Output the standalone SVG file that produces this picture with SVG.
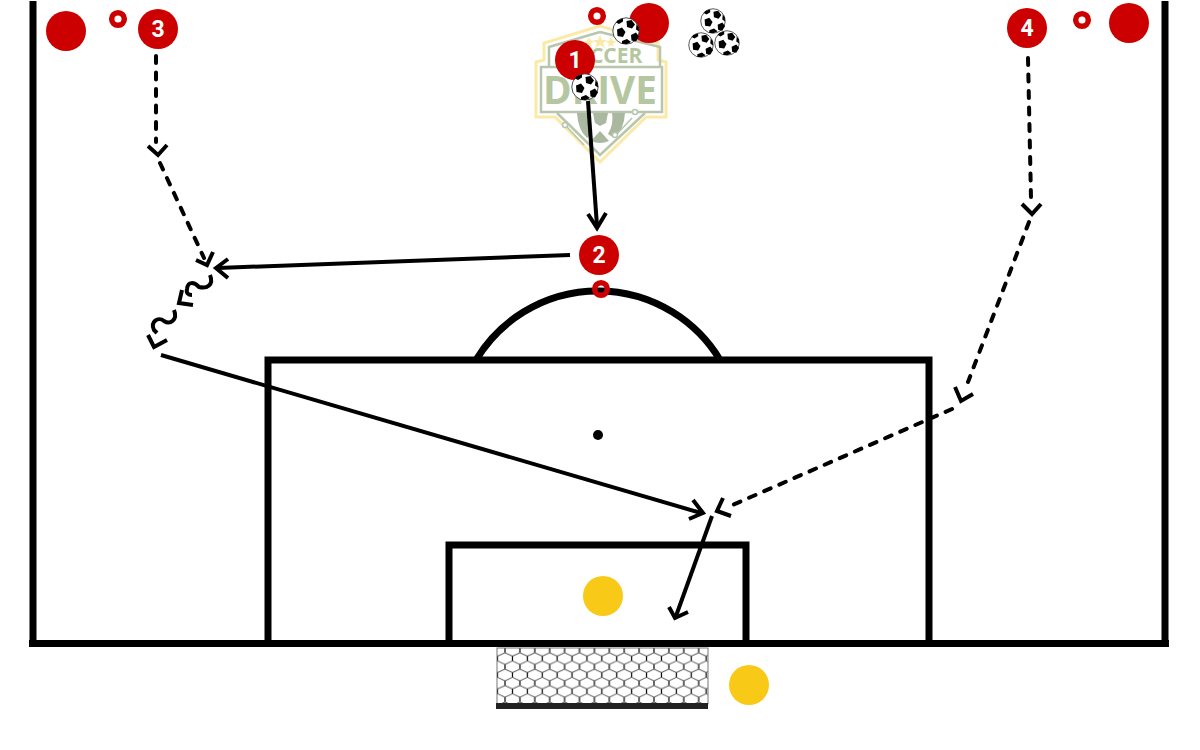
<svg xmlns="http://www.w3.org/2000/svg" width="1200" height="750" viewBox="0 0 1200 750">
<style>
.field{fill:none;stroke:#000;stroke-width:7}
.red{fill:#cc0000}
.ring{fill:none;stroke:#cc0000;stroke-width:5.5}
.num{font-family:"Roboto","Liberation Sans",sans-serif;font-weight:700;font-size:23px;fill:#fff;text-anchor:middle}
.sol{fill:none;stroke:#000;stroke-width:4}
.dash{fill:none;stroke:#000;stroke-width:4;stroke-dasharray:7 9.5;stroke-linecap:round}
.head{fill:none;stroke:#000;stroke-width:4;stroke-linejoin:miter}
.yel{fill:#f9c918}
.logo-t{font-family:"Open Sans","Liberation Sans",sans-serif;font-weight:700;fill:#b5c7a0;text-anchor:middle}
.lg{fill:none;stroke:#b9c6ae;stroke-width:2.5}
.lc{fill:#fff;stroke:#b9c6ae;stroke-width:1.5}
.lb{fill:#aab8a0}
</style>
<defs>
<symbol id="ball" viewBox="-14 -14 28 28" overflow="visible">
<circle r="13.2" fill="#fff" stroke="#222" stroke-width="0.8"/>
<polygon points="0.5,-10 5.5,-11 9,-6.5 6,-2.5 1,-4" fill="#000"/>
<polygon points="-9,-1.5 -4,-3.5 -0.5,1 -3,6 -8.5,5" fill="#000"/>
<polygon points="5,4 10,1.5 13,5.5 10,10.5 5.5,9.5" fill="#000"/>
<polygon points="-8,-11 -3,-12.5 -3,-9.5 -7,-7 -10,-8.5" fill="#000"/>
<polygon points="-4,10 1,8 5,11 1,13 -4,12.8" fill="#000"/>
<polygon points="10.5,-7 12.6,-4 13,0.5 10,-1.5" fill="#000"/>
</symbol>
<pattern id="net" x="505" y="648" width="14.9" height="16.4" patternUnits="userSpaceOnUse">
<path d="M0,4.7 L7.45,8.2 L14.9,4.7 M7.45,12.9 L0,16.4 M7.45,12.9 L14.9,16.4" fill="none" stroke="#555" stroke-width="1"/>
<path d="M0,0 V4.7 M14.9,0 V4.7 M7.45,8.2 V12.9" fill="none" stroke="#000" stroke-width="1.2"/>
</pattern>
</defs>

<g id="logo">
<path d="M600,26 L544,43 V60 L536,62 V117 L555,117 L600,162 L646,117 L666,117 V62 L658,60 V43 Z" fill="#fff" stroke="#fbe9a6" stroke-width="3"/>
<path class="lg" d="M600,32 L549,47 V67 M660,67 V47 L600,32 M557,113 L600,155 L645,113"/>
<rect x="541" y="67" width="121" height="45" fill="#fff" stroke="#b9c6ae" stroke-width="2.5"/>
<path class="lb" d="M577,113 H589 Q586,126 592,134 L587,138 Q578,130 577,113 Z M612,113 H625 Q624,130 614,138 L608,134 Q614,124 612,113 Z"/>
<polygon class="lb" points="593,113 608,113 606,123 600,126 595,123"/>
<path class="lb" d="M591,141 L600,131 L609,141 Q600,145 591,141 Z"/>
<path class="lg" style="stroke-width:1.5" d="M567,127 L584,145 M617,134 L632,118"/>
<circle class="lc" cx="565" cy="125" r="2.5"/>
<circle class="lc" cx="635" cy="112" r="2.5"/>
<circle class="lc" cx="615" cy="135" r="2.5"/>
<polygon points="600,35 602,40 607,40 603,43 605,48 600,45 595,48 597,43 593,40 598,40" fill="#fbe9a6"/>
<polygon points="589,37 591,41 594,41 591,44 592,47 589,45 586,47 587,44 584,41 587,41" fill="#fbe9a6"/>
<polygon points="611,37 613,41 616,41 613,44 614,47 611,45 608,47 609,44 606,41 609,41" fill="#fbe9a6"/>
<text class="logo-t" x="602" y="63" font-size="21">SOCCER</text>
<text class="logo-t" x="600" y="104" font-size="39" textLength="114" lengthAdjust="spacingAndGlyphs">DRIVE</text>
</g>

<g id="field">
<path class="field" d="M33,1 V643 M1165,1 V643 M29,643.5 H1169"/>
<path class="field" d="M268,643 V360 H929 V643"/>
<path class="field" d="M449,643 V545 H746 V643"/>
<path class="field" d="M476,360 A142.4,142.4 0 0 1 720,360"/>
<circle cx="598" cy="435" r="5" fill="#000"/>
</g>

<g id="goal">
<rect x="497" y="648" width="211" height="56" fill="url(#net)" stroke="#777" stroke-width="1"/>
<rect x="496" y="703" width="212" height="6" fill="#222"/>
</g>

<g id="connectors">
<path class="dash" d="M156,56 V142"/>
<path class="head" d="M148,146 L158,155 L167,145"/>
<path class="dash" d="M160,163 L204,258"/>
<path class="head" d="M196,260 L207,265 L213,252"/>
<path class="sol" d="M570,255 L218,268"/>
<path class="head" d="M228,259 L216,268 L228,278"/>
<path class="sol" d="M210,275 C214,285 207,289 199,287 C194,282 188,281 187,289 C186,293 188,295 192,295"/>
<path class="head" d="M182,290 L179,303 L193,305"/>
<path class="sol" d="M174,310 C178,320 170,325 164,321 C158,316 150,322 154,330 L157,333"/>
<path class="head" d="M148,335 L154,347 L167,340"/>
<path class="sol" d="M161,355 L701,513"/>
<path class="head" d="M693,500 L703,513 L689,519"/>
<path class="sol" d="M588,101 L597,226"/>
<path class="head" d="M588,214 L597,228 L606,213"/>
<path class="dash" d="M1028,58 L1031,198"/>
<path class="head" d="M1022,204 L1032,214 L1041,204"/>
<path class="dash" d="M1029,222 L968,382"/>
<path class="head" d="M955,387 L961,401 L973,394"/>
<path class="dash" d="M952,409 L728,507"/>
<path class="head" d="M723,498 L717,511 L731,516"/>
<path class="sol" d="M712,516 L676,616"/>
<path class="head" d="M669,607 L675,618 L688,612"/>
</g>

<g id="cone-a"><circle class="ring" cx="118" cy="19" r="6.3"/></g>
<g id="cone-b"><circle class="ring" cx="597" cy="16" r="6.3"/></g>
<g id="cone-c"><circle class="ring" cx="1082" cy="20" r="6.3"/></g>
<g id="cone-d"><circle class="ring" cx="601" cy="289" r="6.3"/></g>

<g id="player-a"><circle class="red" cx="66" cy="31" r="20"/></g>
<g id="player-b"><circle class="red" cx="649" cy="23" r="20"/></g>
<g id="player-c"><circle class="red" cx="1129" cy="23" r="20"/></g>
<g id="player-3"><circle class="red" cx="158" cy="29" r="20"/><text class="num" x="158" y="37">3</text></g>
<g id="player-4"><circle class="red" cx="1027" cy="28" r="20"/><text class="num" x="1027" y="36">4</text></g>
<g id="player-1"><circle class="red" cx="575" cy="60" r="20"/><text class="num" x="575" y="68">1</text></g>
<g id="player-2"><circle class="red" cx="599" cy="255" r="20"/><text class="num" x="599" y="263">2</text></g>

<g id="keeper"><circle class="yel" cx="603" cy="596" r="20"/></g>
<g id="server"><circle class="yel" cx="749" cy="685" r="20"/></g>

<g id="ball-1"><use href="#ball" x="612" y="17" width="28" height="28"/></g>
<g id="ball-2"><use href="#ball" x="571" y="73" width="28" height="28"/></g>
<g id="ball-3"><use href="#ball" x="700" y="8" width="26" height="26"/></g>
<g id="ball-4"><use href="#ball" x="688" y="32" width="26" height="26"/></g>
<g id="ball-5"><use href="#ball" x="714" y="30" width="26" height="26"/></g>
</svg>
